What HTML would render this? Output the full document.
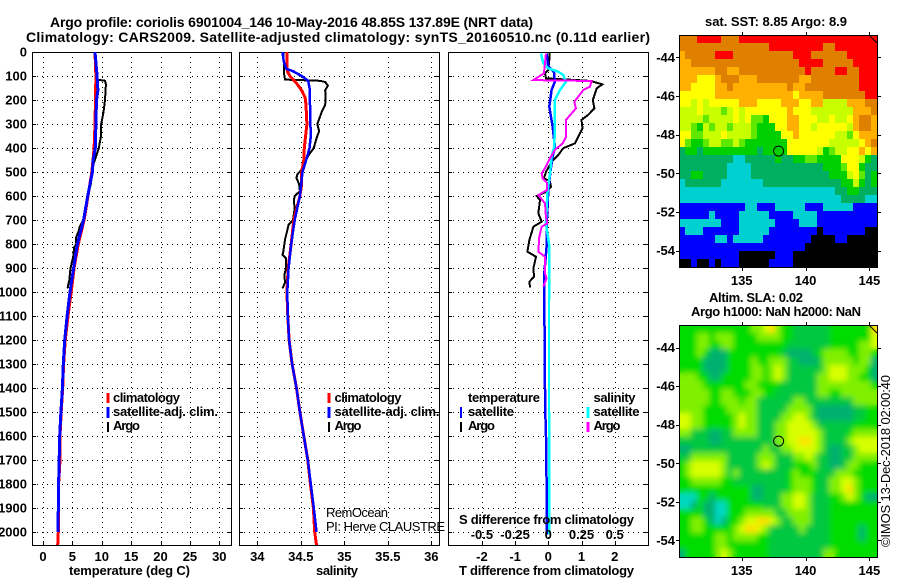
<!DOCTYPE html>
<html>
<head>
<meta charset="utf-8">
<title>Argo profile chart</title>
<style>
html,body{margin:0;padding:0;background:#fff;}
svg{display:block;font-family:"Liberation Sans",sans-serif;}
text{fill:#000;}
.b{font-weight:bold;font-size:13px;}
.t{font-weight:bold;font-size:14px;}
.n{font-size:13px;}
</style>
</head>
<body>
<svg id="chart" width="900" height="580" viewBox="0 0 900 580">
<defs>
<filter id="smooth" x="-5%" y="-5%" width="110%" height="110%"><feGaussianBlur stdDeviation="3"/></filter>
<clipPath id="clip-sla"><rect x="679" y="325" width="198" height="232"/></clipPath>
</defs>
<text class="t" x="50" y="27" textLength="483" lengthAdjust="spacing">Argo profile: coriolis 6901004_146 10-May-2016 48.85S 137.89E (NRT data)</text>
<text class="t" x="26" y="42" textLength="624" lengthAdjust="spacing">Climatology: CARS2009. Satellite-adjusted climatology: synTS_20160510.nc (0.11d earlier)</text>
<g id="plots"></g>
<g id="maps"></g>
<g>
<line x1="108" x2="108" y1="393" y2="403" stroke="#f00" stroke-width="3"/>
<line x1="108" x2="108" y1="407" y2="418" stroke="#00f" stroke-width="3"/>
<line x1="108" x2="108" y1="422" y2="432" stroke="#000" stroke-width="2"/>
<text class="b" x="113" y="402" textLength="67" lengthAdjust="spacing">climatology</text>
<text class="b" x="113" y="416" textLength="105" lengthAdjust="spacing">satellite-adj. clim.</text>
<text class="b" x="113" y="430" textLength="27" lengthAdjust="spacing">Argo</text>
</g>
<g>
<line x1="329" x2="329" y1="393" y2="403" stroke="#f00" stroke-width="3"/>
<line x1="329" x2="329" y1="407" y2="418" stroke="#00f" stroke-width="3"/>
<line x1="329" x2="329" y1="422" y2="432" stroke="#000" stroke-width="2"/>
<text class="b" x="334.5" y="402" textLength="67" lengthAdjust="spacing">climatology</text>
<text class="b" x="334.5" y="416" textLength="105" lengthAdjust="spacing">satellite-adj. clim.</text>
<text class="b" x="334.5" y="430" textLength="27" lengthAdjust="spacing">Argo</text>
</g>
<g>
<text class="b" x="468" y="402" textLength="72" lengthAdjust="spacing">temperature</text>
<line x1="461" x2="461" y1="407" y2="418" stroke="#00f" stroke-width="2"/>
<line x1="461" x2="461" y1="422" y2="432" stroke="#000" stroke-width="2"/>
<text class="b" x="468" y="416" textLength="46" lengthAdjust="spacing">satellite</text>
<text class="b" x="468" y="430" textLength="27" lengthAdjust="spacing">Argo</text>
<text class="b" x="593.5" y="402" textLength="42" lengthAdjust="spacing">salinity</text>
<line x1="588" x2="588" y1="407" y2="418" stroke="#0ff" stroke-width="3"/>
<line x1="588" x2="588" y1="422" y2="432" stroke="#f0f" stroke-width="3"/>
<text class="b" x="593.5" y="416" textLength="46" lengthAdjust="spacing">satellite</text>
<text class="b" x="593.5" y="430" textLength="27" lengthAdjust="spacing">Argo</text>
</g>
<text class="n" x="326" y="517" textLength="62" lengthAdjust="spacing">RemOcean</text>
<text class="n" x="326" y="531" textLength="119" lengthAdjust="spacing">PI: Herve CLAUSTRE</text>
<text class="b" x="69" y="575" textLength="121" lengthAdjust="spacing">temperature (deg C)</text>
<text class="b" x="316" y="575" textLength="42" lengthAdjust="spacing">salinity</text>
<text class="b" x="459" y="575" textLength="175" lengthAdjust="spacing">T difference from climatology</text>
<text class="b" x="459" y="524" textLength="175" lengthAdjust="spacing">S difference from climatology</text>
<text class="b" x="705" y="26" textLength="142" lengthAdjust="spacing">sat. SST: 8.85 Argo: 8.9</text>
<text class="b" x="709" y="302" textLength="94" lengthAdjust="spacing">Altim. SLA: 0.02</text>
<text class="b" x="691" y="316" textLength="170" lengthAdjust="spacing">Argo h1000: NaN h2000: NaN</text>
<text class="n" transform="translate(890,547) rotate(-90)" textLength="172" lengthAdjust="spacing">©IMOS 13-Dec-2018 02:00:40</text>
</svg>
<script>
/* ---------- chart data ---------- */
var depthTicks = [0,100,200,300,400,500,600,700,800,900,1000,1100,1200,1300,1400,1500,1600,1700,1800,1900,2000];
var tempTicks = [0,5,10,15,20,25,30];
var salTicks = [34,34.5,35,35.5,36];
var salTickLabels = ['34','34.5','35','35.5','36'];
var diffTTicks = [-2,-1,0,1,2];
var diffSTicks = [-0.5,-0.25,0,0.25,0.5];
var diffSTickLabels = ['-0.5','-0.25','0','0.25','0.5'];

var tempClimDepth = [0,100,300,400,450,500,600,700,800,900,1000,1100,1200,1300,1400,1500,1600,1700,1800,1900,2000,2054];
var tempClim =      [8.85,9.0,8.85,8.7,8.5,8.3,7.65,7.0,6.0,5.3,4.8,4.25,3.8,3.5,3.35,3.1,2.9,2.9,2.65,2.65,2.6,2.5];
var tempSatDepth = [0,100,160,200,300,400,450,500,600,700,800,900,1000,1100,1200,1300,1400,1500,1600,1800,2000];
var tempSat =      [8.85,9.2,9.35,9.1,9.0,8.9,8.55,8.4,7.6,6.9,5.85,5.2,4.6,4.1,3.7,3.45,3.3,3.05,2.85,2.65,2.55];
var tempArgoDepth = [0,100,115,120,135,200,250,300,350,400,430,470,500,550,600,650,700,725,750,775,800,815,850,900,920,950,980,985];
var tempArgo =      [8.85,9.1,9.25,10.55,10.7,10.55,10.3,9.9,9.87,9.5,9.1,8.55,8.4,8.15,7.6,7.3,6.86,6.3,6.0,5.6,5.67,5.3,5.15,4.7,4.6,4.5,4.2,4.3];

var salClimDepth = [0,80,100,130,160,190,220,300,400,450,500,550,600,700,800,900,1000,1100,1200,1300,1400,1500,1600,1700,1800,1900,2000,2054];
var salClim =      [34.34,34.345,34.375,34.45,34.51,34.55,34.56,34.57,34.54,34.535,34.51,34.51,34.49,34.42,34.39,34.355,34.34,34.35,34.365,34.4,34.45,34.49,34.535,34.58,34.61,34.645,34.66,34.68];
var salSatDepth = [0,40,70,80,100,120,150,200,300,350,400,440,500,600,700,800,900,1000,1100,1200,1300,1400,1500,1600,1700,1800,1900,2000];
var salSat =      [34.29,34.305,34.335,34.41,34.51,34.585,34.6,34.605,34.61,34.615,34.6,34.57,34.52,34.49,34.43,34.39,34.36,34.345,34.35,34.365,34.4,34.45,34.49,34.535,34.58,34.615,34.65,34.68];
var salArgoDepth = [0,100,115,120,125,140,160,190,220,250,280,300,330,360,400,430,470,490,510,525,550,580,600,620,650,700,720,750,780,830,845,860,900,930,960,985];
var salArgo =      [34.30,34.31,34.32,34.72,34.78,34.81,34.78,34.785,34.78,34.74,34.71,34.69,34.71,34.68,34.65,34.59,34.53,34.51,34.46,34.45,34.48,34.49,34.43,34.42,34.43,34.41,34.36,34.34,34.32,34.30,34.29,34.33,34.33,34.31,34.32,34.29];

var diffTSatDepth = [6,61,82,124,158,228,311,394,436,492,575,728,811,922,1033,1400,1500,1600,1800,2000,2010];
var diffTSat =      [-.05,0,.17,.2,.1,.03,.13,.2,.13,.07,0,-.05,-.05,-.12,-.12,-.10,-.09,-.07,-.05,-.05,-.03];
var diffTArgoDepth = [0,33,75,89,110,119,124,135,151,200,235,262,283,318,353,381,401,429,457,499,526,540,561,582,600,617,672,707,728,783,832,853,901,936,957,981];
var diffTArgo =      [.03,.03,0,-.10,-.07,1.15,1.36,1.63,1.46,1.34,1.39,1.20,1.00,1.03,.90,.80,.45,.30,.10,-.07,-.13,.05,.08,-.05,-.35,-.25,-.30,-.20,-.45,-.57,-.63,-.37,-.45,-.43,-.57,-.55];
var diffSSatDepth = [6,47,68,82,96,124,158,200,297,394,436,506,575,714,811,922,1033,1500,2000,2010];
var diffSSat =      [-.055,-.038,0,.075,.113,.133,.088,.05,.05,.045,.025,.013,-.005,-.018,.008,.008,.005,.005,.005,.01];
var diffSArgoDepth = [6,47,89,117,121,144,158,186,207,235,283,353,381,408,443,478,506,526,547,575,596,631,686,714,728,769,832,853,922,943,978];
var diffSArgo =      [-.018,-.025,-.033,-.113,.326,.314,.264,.226,.196,.208,.133,.133,.108,.05,.013,-.018,-.05,-.043,-.008,-.008,-.075,-.025,-.018,-.008,-.05,-.068,-.075,-.025,-.025,-.013,-.038];

/* ---------- map data: one letter per grid cell (colour class) ---------- */
var mapLonTicks = [135,140,145];
var mapLatTicks = [-44,-46,-48,-50,-52,-54];
var argoLon = 137.89;
var argoLat = -48.85;
var sstPalette = {R:'#ff0000',O:'#e08000',A:'#ffb000',Y:'#ffff00',L:'#c8ff00',G:'#60e800',N:'#00d000',T:'#00b060',C:'#00d0d0',B:'#0000ff',K:'#000000'};
var slaPalette = {G:'#00dc00',D:'#00c840',T:'#00b070',L:'#80f000',Y:'#d8ff00',W:'#ffe000',C:'#00d8c0'};
var sstGrid = [
"OOORRRROOORRRRRRRRRRRRRRRRRRRRRRR",
"OOOOOOOOOOOOOOORRRRRRRRROORRRRRRR",
"AOOOOORRROOOOOOOOOORRROOOOOORRRRR",
"AAOOOOOOOOOOOOOOOOOORRRROOOOORRRR",
"AAAAAAOOAAOOOOOOOOOOOROOOORROORRR",
"AAAYYYAOOOAAAOOOOOOOAAOOOOOOOORRR",
"AAYYYYAAOAAAAAAAAAOAAOOOOOOOOORRR",
"YYYYYYAAAAAAAAAAAAAYAAAAOOOOOOORR",
"YYLYLYYYYYAAAYYYYAAAYYAALLLLAAAOO",
"LLLYLLLGLYLYYYYYYYAYYYLLLLLLLAAAO",
"LLLLGLLLLYLYGGNYYYAAYYYLLYLLYAOOA",
"LLGNLGLLGLLLGNNNYYAAYYLYYYYYLAOOA",
"YYGGLLLYLLLLGNNNNYYAYYYYYYLLGYAAA",
"YGNNGLLGGLGNNNNNNNYYYYYYYLLLLLYAO",
"TNNTNNNNNNNNNTNNNNYYYYYLNGLLYYAYA",
"TTTTTTTTTCCTTTTTNTTNNGGNNNNYYYLNT",
"TTTTTTTTCCCCTTTTTTTTTTTTNNNGYYNTT",
"TTNNTTTTCCCCTTTTTTTTTTTTTNNNLYGTN",
"CTTTTTTCCCCCCCTTTTTTTTTTTTTNNLNTN",
"CCCCCCCCCCCCCCCCCCCCCCCCCCTTNNTTT",
"CCCCCCCCCCCCCCCCCCCCCCCCCCCTTTTCC",
"BBBBBBBBBBBCCBBBCCCCCBBBCCCCCBBBB",
"BBBBBCBBBBCCCCCBBBBCCCCBBBBBBBBBB",
"CCCCCCCBBBCCCCCCBBBBCCCBBBBBBBBBB",
"BCCCBBBBBBCCCCCBBBBBBBBKBBBBBBBKK",
"BBBBBBCCBCCCCCBBBBBBBBKKKKBBKKKKK",
"BBBBBBBBBBBBBBBBBBBBBKKKKKKKKKKKK",
"BBBBBBBBBBKKKKKKBBBKKKKKKKKKKKKKK",
"KKBKKBKBBBKKKKKBBBBKKKKKKKKKKKKKK"
];
var slaGrid = [
"GGGGGGGGGGGGLLYWLGGDDDDDDGGGGGGGW",
"GGGLLGLLLGGGGLLLLGGDDDDDDGGGGGGGY",
"GGGLLGGLLGGGGGGGGGDDDDDDDGGGGGLLY",
"GGGLGTTTGGGGGGGGGDTTTTDGLLLLGGLLG",
"GGGGTTTTGGGGLGGLLLDDTTTDLLLLLGLLT",
"GGGGTTTTGGGGLLGLYLDDDDDDLYYYLLLGT",
"LLLGGTTGGGGGLLGLYLDDDDDLLYYYLLGGT",
"LLLLGGGGGGGLLGGGGDDDDDDLLLLLLLLLG",
"LLLLLGGLLGGGLLGGDDDDDDDLLGGLLLLLL",
"LLLLLGGLLLGLLDDDDDDLLDDDDDDDDLLLL",
"LLLLGGGGLLLLLDDDDDLLLLDTTTTTTDDGG",
"YYLLGGGGGLYLLDDDDLLYYLDTTTTTTDDGG",
"YYLLGGGGGLYLLDDDLLYYYYLDDDDDDGGGG",
"LLDDDTTDDLLLLDDDLLYYYYYLDDDDGLLLL",
"DDDDDTTDDDDDDDDDLLYYWWYLDDDDLYYYY",
"TTDDDDDDDDDDDDLDDLLYYYYLDTTDDLYYY",
"DDLLLLLLDDDDDLLLDDDLLYLDDTTDDLLLL",
"GLYYYYYLDDDDDLYLDDDGGGLDDTTDLLGGG",
"GLYYYYYLDLDDDDDDDDGLGGGDDDLLLGGGG",
"GGLLLLLGGDDDDDDDDDGLLLGDDLLYYLGGG",
"GGGGGGGGGGGGTTDDDDGLLLGDDLLYWLGGG",
"CCCGGTGGGGGGTTDDDLLYYLDDDGGLYLGTT",
"CCTGTTCCGGGGGGDDDLLYYLDDDGGGGGGGG",
"GGGGTTCCGGGLLLLLDDLLLLDDDGGGGGGGG",
"GGLLGTCTGGLYYWWYLDDLLLDDDGGGGGGGG",
"GGLLGGGGGLYWWYLDDDDDLDDDDGGGGGTGG",
"GGGGGGLLGLLLLGGDDDDDDDDDDGGGGGTGG",
"GGGGGGLLGGGGGGGDDDDDDDDDDGGGGGGGG",
"TGGGGGLYLGGGGGGDDDDDDDDDLLGGGGGGG"
];

/* ---------- helpers ---------- */
var NS = 'http://www.w3.org/2000/svg';
var plots = document.getElementById('plots');
var maps = document.getElementById('maps');
function make(parent, tag, attrs, txt) {
  var el = document.createElementNS(NS, tag);
  for (var k in attrs) el.setAttribute(k, attrs[k]);
  if (txt !== undefined) el.textContent = txt;
  parent.appendChild(el);
  return el;
}
var panelTop = 52, panelBottom = 545;
function depthY(d) { return panelTop + 0.24 * d; }
function poly(g, xs, ds, xf, color, w, name) {
  var pts = [];
  for (var i = 0; i < xs.length; i++) pts.push(xf(xs[i]).toFixed(1) + ',' + depthY(ds[i]).toFixed(1));
  var el = make(g, 'polyline', {points: pts.join(' '), fill: 'none', stroke: color, 'stroke-width': w, 'shape-rendering': 'crispEdges'});
  
  
}
function panel(name, left, right, ticks, xf, labels) {
  var g = make(plots, 'g', {});
  
  
  var i, y, x, el;
  for (i = 0; i < depthTicks.length; i++) {
    y = Math.round(depthY(depthTicks[i])) + 0.5;
    el = make(g, 'line', {x1: left, x2: right, y1: y, y2: y, stroke: '#000', 'stroke-dasharray': '1 4', 'shape-rendering': 'crispEdges'});
    
    
    el = make(g, 'line', {x1: left, x2: left + 4, y1: y, y2: y, stroke: '#000', 'shape-rendering': 'crispEdges'});
    
    
    el = make(g, 'line', {x1: right - 4, x2: right, y1: y, y2: y, stroke: '#000', 'shape-rendering': 'crispEdges'});
    
    
  }
  for (i = 0; i < ticks.length; i++) {
    x = Math.round(xf(ticks[i])) + 0.5;
    el = make(g, 'line', {x1: x, x2: x, y1: panelTop, y2: panelBottom, stroke: '#000', 'stroke-dasharray': '1 4', 'shape-rendering': 'crispEdges'});
    
    
    el = make(g, 'line', {x1: x, x2: x, y1: panelBottom - 4, y2: panelBottom, stroke: '#000', 'shape-rendering': 'crispEdges'});
    
    
    el = make(g, 'text', {x: xf(ticks[i]), y: 561, 'text-anchor': 'middle', 'class': 'b'}, labels[i]);
    
    
  }
  el = make(g, 'rect', {x: left + 0.5, y: panelTop + 0.5, width: right - left, height: panelBottom - panelTop, fill: 'none', stroke: '#000', 'shape-rendering': 'crispEdges'});
  
  
  return g;
}

/* ---------- axis scales ---------- */
function tempX(t) { return 43 + 5.877 * t; }
function salX(s) { return 257.3 + 87 * (s - 34); }
function diffTX(t) { return 548.3 + 33.2 * t; }
function diffSX(s) { return 548.3 + 132.8 * s; }

/* ---------- panels ---------- */
var g1 = panel('temperature-panel', 32, 231, tempTicks, tempX, tempTicks);
poly(g1, tempArgo, tempArgoDepth, tempX, '#000', 2, 'temperature-argo-line');
poly(g1, tempClim, tempClimDepth, tempX, '#f00', 3, 'temperature-climatology-line');
poly(g1, tempSat, tempSatDepth, tempX, '#00f', 3, 'temperature-satellite-line');

var g2 = panel('salinity-panel', 239, 439, salTicks, salX, salTickLabels);
poly(g2, salArgo, salArgoDepth, salX, '#000', 2, 'salinity-argo-line');
poly(g2, salClim, salClimDepth, salX, '#f00', 3, 'salinity-climatology-line');
poly(g2, salSat, salSatDepth, salX, '#00f', 2.5, 'salinity-satellite-line');

var g3 = panel('difference-panel', 448, 648, diffTTicks, diffTX, diffTTicks);
poly(g3, diffTArgo, diffTArgoDepth, diffTX, '#000', 2, 't-difference-argo-line');
poly(g3, diffTSat, diffTSatDepth, diffTX, '#00f', 2.5, 't-difference-satellite-line');
poly(g3, diffSSat, diffSSatDepth, diffSX, '#0ff', 2.5, 's-difference-satellite-line');
poly(g3, diffSArgo, diffSArgoDepth, diffSX, '#f0f', 2, 's-difference-argo-line');
for (var si = 0; si < diffSTicks.length; si++) {
  var sl = make(g3, 'text', {x: diffSX(diffSTicks[si]), y: 539, 'text-anchor': 'middle', 'class': 'b'}, diffSTickLabels[si]);
  
  
}

/* depth labels */
for (var di = 0; di < depthTicks.length; di++) {
  var dl = make(plots, 'text', {x: 27, y: depthY(depthTicks[di]) + 4.5, 'text-anchor': 'end', 'class': 'b'}, depthTicks[di]);
  
  
}

/* ---------- maps ---------- */
function drawMap(name, top, bottom, lat44, latScale, grid, palette, smooth) {
  var g = make(maps, 'g', {});
  
  
  var cells = make(g, 'g', {});
  
  
  var left = 679.3, right = 877.3;
  function lonX(lon) { return 741.7 + (lon - 135) * 12.77; }
  function latY(lat) { return lat44 + (-44 - lat) * latScale; }
  var lonStart = 135 + (left - 741.7) / 12.77;
  var lonEnd = 135 + (right - 741.7) / 12.77;
  var latStart = -44 - (top - lat44) / latScale;
  var latEnd = -44 - (bottom - lat44) / latScale;
  var dLon = (lonEnd - lonStart) / grid[0].length;
  var dLat = (latStart - latEnd) / grid.length;
  var r, c, el;
  for (r = 0; r < grid.length; r++) {
    for (c = 0; c < grid[r].length; c++) {
      var x0 = Math.round(lonX(lonStart + c * dLon));
      var x1 = Math.round(lonX(lonStart + (c + 1) * dLon));
      var y0 = Math.round(latY(latStart - r * dLat));
      var y1 = Math.round(latY(latStart - (r + 1) * dLat));
      el = make(cells, 'rect', {x: x0, y: y0, width: x1 - x0, height: y1 - y0, fill: palette[grid[r][c]], 'shape-rendering': 'crispEdges'});
      
      
    }
  }
  if (smooth) {
    var clipGroup = make(g, 'g', {'clip-path': 'url(#clip-sla)'});
    
    
    var blurred = cells.cloneNode(true);
    blurred.setAttribute('filter', 'url(#smooth)');
    
    
    clipGroup.appendChild(blurred);
  }
  var L = Math.round(left), R = Math.round(right), T = Math.round(top), B = Math.round(bottom);
  el = make(g, 'line', {x1: R - 8, y1: T, x2: R, y2: T + 8, stroke: '#000', 'stroke-width': 1});
  
  
  el = make(g, 'rect', {x: L + 0.5, y: T + 0.5, width: R - L, height: B - T, fill: 'none', stroke: '#000', 'shape-rendering': 'crispEdges'});
  
  
  var i, p;
  for (i = 0; i < mapLonTicks.length; i++) {
    p = Math.round(lonX(mapLonTicks[i])) + 0.5;
    el = make(g, 'line', {x1: p, x2: p, y1: T - 3, y2: T, stroke: '#000', 'shape-rendering': 'crispEdges'});
    
    
    el = make(g, 'line', {x1: p, x2: p, y1: B, y2: B + 4, stroke: '#000', 'shape-rendering': 'crispEdges'});
    
    
    el = make(g, 'text', {x: lonX(mapLonTicks[i]), y: B + 18, 'text-anchor': 'middle', 'class': 'b'}, mapLonTicks[i]);
    
    
  }
  for (i = 0; i < mapLatTicks.length; i++) {
    p = Math.round(latY(mapLatTicks[i])) + 0.5;
    el = make(g, 'line', {x1: L - 3, x2: L, y1: p, y2: p, stroke: '#000', 'shape-rendering': 'crispEdges'});
    
    
    el = make(g, 'line', {x1: R, x2: R + 4, y1: p, y2: p, stroke: '#000', 'shape-rendering': 'crispEdges'});
    
    
    el = make(g, 'text', {x: 675, y: latY(mapLatTicks[i]) + 4.5, 'text-anchor': 'end', 'class': 'b'}, mapLatTicks[i]);
    
    
  }
  el = make(g, 'circle', {cx: lonX(argoLon), cy: latY(argoLat), r: 5, fill: 'none', stroke: '#000', 'stroke-width': 1});
  
  
}
drawMap('sst-map', 35.3, 267.3, 57.3, 19.34, sstGrid, sstPalette, false);
drawMap('sla-map', 325.3, 557, 347.7, 19.26, slaGrid, slaPalette, true);
</script>
</body>
</html>
